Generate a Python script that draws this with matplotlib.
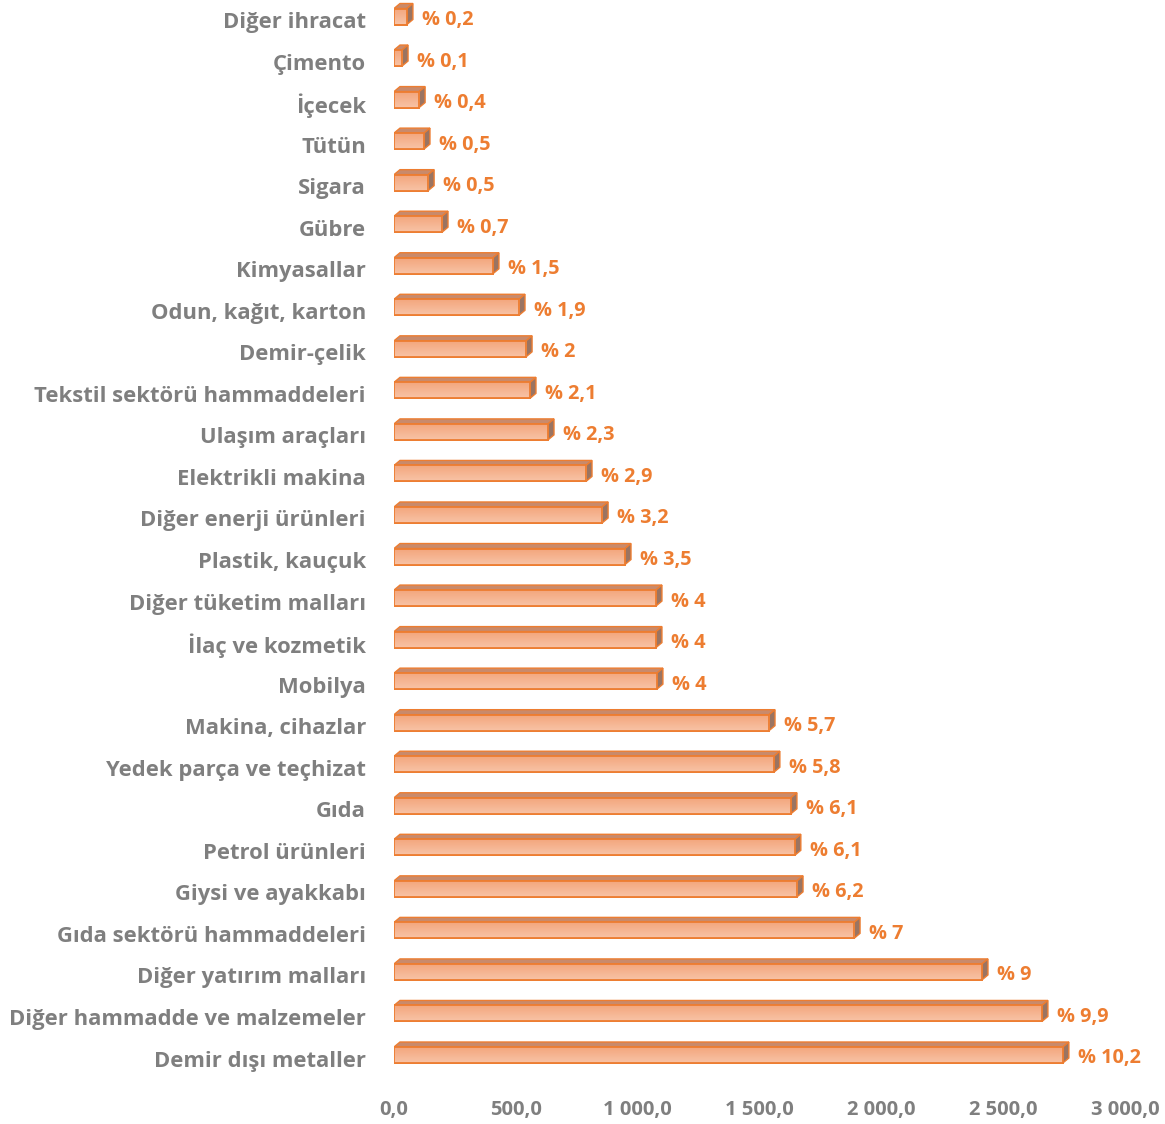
import numpy as np
import matplotlib
matplotlib.use("Agg")
import matplotlib.pyplot as plt
from matplotlib.patches import Polygon
from matplotlib.colors import LinearSegmentedColormap
import matplotlib.transforms as mtransforms

categories = ["Diğer ihracat", "Çimento", "İçecek", "Tütün", "Sigara", "Gübre",
              "Kimyasallar", "Odun, kağıt, karton", "Demir-çelik",
              "Tekstil sektörü hammaddeleri", "Ulaşım araçları", "Elektrikli makina",
              "Diğer enerji ürünleri", "Plastik, kauçuk", "Diğer tüketim malları",
              "İlaç ve kozmetik", "Mobilya", "Makina, cihazlar",
              "Yedek parça ve teçhizat", "Gıda", "Petrol ürünleri",
              "Giysi ve ayakkabı", "Gıda sektörü hammaddeleri",
              "Diğer yatırım malları", "Diğer hammadde ve malzemeler",
              "Demir dışı metaller"]
values = [53, 33, 103, 123, 140, 197, 406, 513, 542, 558, 632, 788, 854, 948,
          1075, 1075, 1079, 1539, 1559, 1629, 1645, 1654, 1888, 2413, 2659, 2745]
pct_labels = ["% 0,2", "% 0,1", "% 0,4", "% 0,5", "% 0,5", "% 0,7", "% 1,5", "% 1,9",
              "% 2", "% 2,1", "% 2,3", "% 2,9", "% 3,2", "% 3,5", "% 4", "% 4", "% 4",
              "% 5,7", "% 5,8", "% 6,1", "% 6,1", "% 6,2", "% 7", "% 9", "% 9,9", "% 10,2"]
xticks = [0, 500, 1000, 1500, 2000, 2500, 3000]
xtick_labels = ["0,0", "500,0", "1 000,0", "1 500,0", "2 000,0", "2 500,0", "3 000,0"]

W, H = 1165, 1124
fig = plt.figure(figsize=(W / 100, H / 100), dpi=100)
x0_px, x1_px = 394, 1125
ytop_px, ybot_px = 0, 1076
ax = fig.add_axes([x0_px / W, (H - ybot_px) / H, (x1_px - x0_px) / W, (ybot_px - ytop_px) / H])

n = len(categories)
y = np.arange(n)
spacing = 41.54
first_center = 16.5
ax.set_xlim(0, 3000)
ax.set_ylim((ybot_px - first_center) / spacing, (ytop_px - first_center) / spacing)

font = "Open Sans"
gray = "#7f7f7f"
orange = "#ed7d31"

bar_h = 16 / spacing
hh = bar_h / 2
px_per_unit = (x1_px - x0_px) / 3000
ddx = 6 / px_per_unit
ddy = 5 / spacing

grad = np.linspace(0, 1, 50).reshape(-1, 1)
cmap = LinearSegmentedColormap.from_list("g", ["#f3a67d", "#f8c3a6"])

bars = ax.barh(y, values, height=bar_h, color="#f5b494", edgecolor=orange, linewidth=1.3, zorder=3)
for yi, v, b in zip(y, values, bars):
    im = ax.imshow(grad, cmap=cmap, aspect="auto", extent=[0, v, yi + hh, yi - hh], zorder=3.5)
    im.set_clip_path(b)
    ax.add_patch(plt.Rectangle((0, yi - hh), v, bar_h, fill=False, edgecolor=orange, linewidth=1.3, zorder=4))
    top = Polygon([(0, yi - hh), (v, yi - hh), (v + ddx, yi - hh - ddy), (ddx, yi - hh - ddy)],
                  closed=True, facecolor="#c98a6b", edgecolor=orange, linewidth=1.0, zorder=3)
    side = Polygon([(v, yi - hh), (v + ddx, yi - hh - ddy), (v + ddx, yi + hh - ddy), (v, yi + hh)],
                   closed=True, facecolor="#9a7462", edgecolor=orange, linewidth=1.0, zorder=3)
    ax.add_patch(top)
    ax.add_patch(side)

for yi, v, lab in zip(y, values, pct_labels):
    ax.annotate(lab, xy=(v, yi), xytext=(15 * 0.72, -3.5 * 0.72), textcoords="offset points",
                ha="left", va="center", color=orange, fontsize=14.3, fontweight="bold",
                family=font)

ax.set_yticks(y)
ax.set_yticklabels(categories, fontsize=15.8, fontweight="bold", color=gray, family=font)
ax.tick_params(axis="y", length=0, pad=28 * 0.72)
offset = mtransforms.ScaledTranslation(0, -6 / 100, fig.dpi_scale_trans)
for t in ax.get_yticklabels():
    t.set_va("center")
    t.set_transform(t.get_transform() + offset)
ax.set_xticks(xticks)
ax.set_xticklabels(xtick_labels, fontsize=14.5, fontweight="bold", color=gray, family=font)
ax.tick_params(axis="x", length=0, pad=24 * 0.72)
for s in ax.spines.values():
    s.set_visible(False)

fig.savefig("out.png", dpi=100)
